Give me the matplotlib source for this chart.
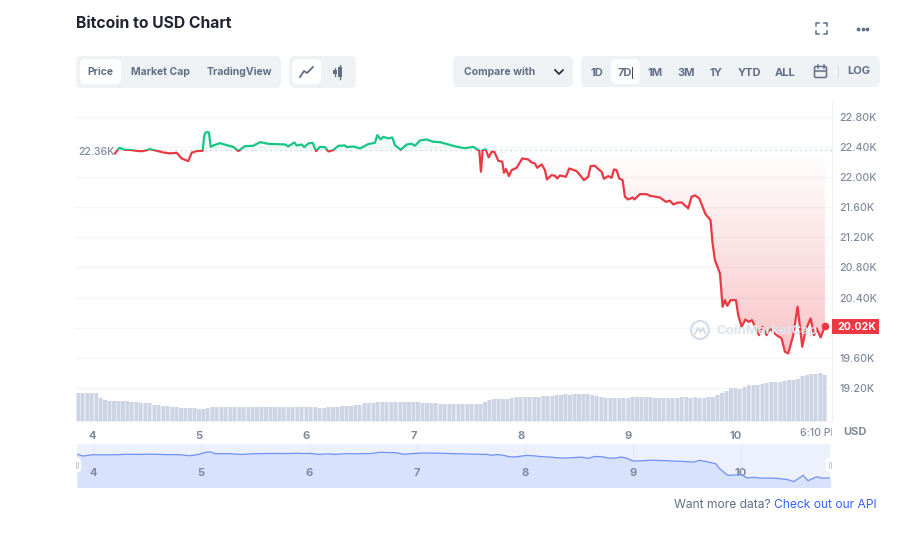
import numpy as np
import matplotlib
matplotlib.use("Agg")
import matplotlib.pyplot as plt
from matplotlib.patches import FancyBboxPatch, Rectangle, Circle
from matplotlib.path import Path

plt.rcParams["font.family"] = ["Inter", "DejaVu Sans"]

# Данные графика
price_days = [4.214, 4.255, 4.308, 4.370, 4.432, 4.478, 4.541, 4.603, 4.665, 4.727, 4.789, 4.836, 4.898, 4.929,
              4.975, 5.031, 5.047, 5.062, 5.090, 5.106, 5.131, 5.193, 5.255, 5.317, 5.364, 5.426, 5.504, 5.566,
              5.643, 5.721, 5.799, 5.830, 5.886, 5.907, 5.954, 5.979, 6.016, 6.057, 6.088, 6.125, 6.172, 6.203,
              6.249, 6.296, 6.358, 6.373, 6.436, 6.498, 6.575, 6.637, 6.659, 6.690, 6.715, 6.762, 6.799, 6.824,
              6.877, 6.933, 6.979, 7.010, 7.057, 7.119, 7.181, 7.243, 7.321, 7.398, 7.476, 7.554, 7.610, 7.625,
              7.641, 7.669, 7.697, 7.725, 7.750, 7.787, 7.824, 7.839, 7.858, 7.886, 7.911, 7.958, 8.010, 8.066,
              8.097, 8.128, 8.150, 8.191, 8.222, 8.240, 8.284, 8.315, 8.336, 8.361, 8.417, 8.448, 8.517, 8.548,
              8.585, 8.625, 8.647, 8.687, 8.719, 8.750, 8.771, 8.812, 8.843, 8.865, 8.889, 8.914, 8.945, 8.967,
              8.998, 9.039, 9.054, 9.107, 9.169, 9.200, 9.293, 9.349, 9.386, 9.418, 9.455, 9.495, 9.557, 9.588,
              9.620, 9.660, 9.697, 9.719, 9.765, 9.784, 9.806, 9.853, 9.877, 9.899, 9.921, 9.952, 10.002, 10.023,
              10.055, 10.089, 10.120, 10.151, 10.188, 10.216, 10.247, 10.288, 10.319, 10.381, 10.427, 10.458,
              10.489, 10.536, 10.576, 10.598, 10.620, 10.651, 10.698, 10.729, 10.754, 10.791, 10.831]
prices = [22.316, 22.391, 22.364, 22.360, 22.347, 22.347, 22.373, 22.351, 22.329, 22.316, 22.325, 22.249, 22.214, 22.325,
          22.347, 22.351, 22.559, 22.599, 22.595, 22.404, 22.422, 22.453, 22.426, 22.404, 22.347, 22.413, 22.418, 22.466,
          22.444, 22.440, 22.435, 22.409, 22.462, 22.422, 22.435, 22.400, 22.449, 22.457, 22.347, 22.404, 22.400, 22.342,
          22.360, 22.418, 22.422, 22.400, 22.409, 22.382, 22.440, 22.457, 22.559, 22.502, 22.537, 22.515, 22.528, 22.426,
          22.364, 22.435, 22.444, 22.418, 22.488, 22.502, 22.471, 22.466, 22.435, 22.405, 22.385, 22.404, 22.350, 22.072,
          22.360, 22.369, 22.263, 22.338, 22.338, 22.218, 22.205, 22.059, 22.108, 22.015, 22.094, 22.125, 22.249, 22.236,
          22.196, 22.183, 22.125, 22.170, 22.094, 21.970, 22.028, 22.019, 21.983, 22.023, 22.006, 22.116, 22.081, 22.028,
          21.961, 22.006, 22.147, 22.152, 22.108, 22.072, 21.979, 22.015, 21.992, 22.103, 22.094, 21.983, 21.961, 21.740,
          21.704, 21.730, 21.704, 21.775, 21.775, 21.753, 21.730, 21.673, 21.687, 21.638, 21.660, 21.665, 21.585, 21.740,
          21.758, 21.718, 21.585, 21.505, 21.430, 21.120, 20.898, 20.720, 20.278, 20.366, 20.291, 20.366, 20.366, 20.167,
          20.012, 20.109, 20.078, 20.100, 19.990, 19.901, 20.012, 19.901, 19.990, 19.901, 19.857, 19.680,
          19.658, 19.901, 20.278, 20.012, 19.746, 19.968, 20.123, 19.901, 19.990, 19.870, 20.021]
base_price = 22.36

volumes = [27.7, 27.7, 27.7, 27.7, 27.7, 22.7, 21, 20.3, 20, 20, 19.7, 19.7, 19, 18.7, 18, 18, 17.7, 16.5, 15.7, 15,
           14.7, 14.3, 13.8, 13.3, 13, 13, 12.7, 12, 12, 13, 14, 14.3, 14.3, 14.3, 14.3, 14.3, 14.3, 14.3, 14.3, 14.3,
           14.3, 14.3, 14.3, 14.3, 14.3, 14.3, 14.3, 14.3, 14.3, 14.3, 14.3, 14.3, 14.3, 14.3, 13.4, 13.4, 14.3, 14.3,
           14.3, 15, 15, 15.3, 15.7, 16.5, 17.7, 17.7, 17.7, 18.7, 18.7, 18.7, 18.7, 18.7, 18.7, 18.7, 18.7, 18.7, 18.7,
           18.3, 17.7, 17.7, 17.7, 17, 17, 17, 17, 17, 17, 17, 17, 17, 17.5, 19, 21, 22, 22, 22, 22, 22.7, 23.7, 23.7,
           23.7, 24.3, 23.7, 23.7, 24.7, 25.3, 25.3, 26, 26, 26.7, 26, 26.7, 26.7, 26.7, 26.7, 26.3, 25, 23.7, 23, 23,
           23, 23, 22.7, 22.7, 23.7, 23.7, 23.7, 24, 24, 23.5, 22.7, 22.7, 22.7, 22.7, 23.5, 24, 24, 23, 23.7, 23.4,
           22.7, 23.7, 23.7, 26, 28, 30, 32.7, 33, 32, 34, 35.7, 36, 36, 37, 37.7, 39.3, 39.3, 39.3, 39.7, 41, 41.5,
           42.3, 45, 46, 47.3, 47.5, 48, 46]
vol_start = 3.851

# навигатор начинается раньше основной линии
nav_lead_days = [3.852, 3.91, 4.0, 4.1]
nav_lead_prices = [22.36, 22.19, 22.32, 22.30]

y_ticks = [19.2, 19.6, 20.0, 20.4, 20.8, 21.2, 21.6, 22.0, 22.4, 22.8]
y_labels = ["19.20K", "19.60K", "", "20.40K", "20.80K", "21.20K", "21.60K", "22.00K", "22.40K", "22.80K"]
x_days = [4, 5, 6, 7, 8, 9, 10]
range_labels = ["1D", "7D", "1M", "3M", "1Y", "YTD", "ALL"]

GREEN = "#16c784"
RED = "#ea3943"
GRAY = "#808a9d"
TEXT = "#616e85"
PANEL = "#eff2f5"

W, H = 900, 545
fig = plt.figure(figsize=(W / 100, H / 100), dpi=100, facecolor="white")


def px_axes(x0, y0, x1, y1, **kw):
    return fig.add_axes([x0 / W, 1 - y1 / H, (x1 - x0) / W, (y1 - y0) / H], **kw)


# -----------------------------
# Основной график
# -----------------------------
ax = px_axes(76, 100, 832, 421)
xlim = (3.851, 10.897)
ylim = (18.76, 23.026)

days = np.array(price_days)
vals = np.array(prices)

# заливка с градиентом
red_fill = ax.fill_between(days, vals, base_price, where=vals <= base_price, interpolate=True, color="none")
grad = np.zeros((256, 2, 4))
grad[..., :3] = matplotlib.colors.to_rgb(RED)
grad[..., 3] = np.linspace(0, 0.3, 256)[:, None]
img = ax.imshow(grad, extent=[days[0], days[-1], 19.6, base_price], aspect="auto", origin="upper", zorder=1.5)
img.set_clip_path(Path.make_compound_path(*red_fill.get_paths()), transform=ax.transData)

ax.fill_between(days, vals, base_price, where=vals >= base_price, interpolate=True, color=GREEN, alpha=0.05, lw=0)

# объёмы
vol_ax = ax.twinx()
vol_ax.set_ylim(0, 321)
vol_ax.axis("off")
vol_x = vol_start + (np.arange(len(volumes)) + 0.5) / 24
vol_ax.bar(vol_x, volumes, width=1 / 24, color="#e2e6ee", lw=0)
vol_ax.bar(vol_x, volumes, width=0.72 / 24, color="#cdd4e3", lw=0)

# оси основного графика (после twinx)
for s in ax.spines.values():
    s.set_visible(False)
ax.spines["right"].set_visible(True)
ax.spines["right"].set_color("#eff2f5")
ax.spines["bottom"].set_visible(True)
ax.spines["bottom"].set_color("#eff2f5")
ax.yaxis.tick_right()
ax.set_yticks(y_ticks)
ax.set_yticklabels(y_labels, fontsize=7.6, color=GRAY, fontweight="medium")
ax.tick_params(axis="y", length=0, pad=5.5, left=False, labelleft=False, right=False, labelright=True)
ax.grid(True, axis="y", color="#f4f5f8", lw=1)
ax.set_axisbelow(True)
ax.set_xticks(x_days)
ax.set_xticklabels([str(d) for d in x_days], fontsize=8, color=GRAY, fontweight="bold")
ax.tick_params(axis="x", length=0, pad=7)

# базовая линия и цена
y_to_vol = lambda p: (np.asarray(p) - ylim[0]) / (ylim[1] - ylim[0]) * 321
line_y = y_to_vol(vals)
base_y = float(y_to_vol(base_price))
vol_ax.axhline(base_y, xmin=(days[0] - xlim[0]) / (xlim[1] - xlim[0]), color="#bfc5d0", lw=0.9, ls=(0, (1, 3)))
g_line, = vol_ax.plot(days, line_y, color=GREEN, lw=1.6, solid_joinstyle="round")
r_line, = vol_ax.plot(days, line_y, color=RED, lw=1.6, solid_joinstyle="round")
g_line.set_clip_path(Rectangle((xlim[0], base_y), 10, 321, transform=vol_ax.transData))
r_line.set_clip_path(Rectangle((xlim[0], 0), 10, base_y, transform=vol_ax.transData))
vol_ax.plot(days[-1], line_y[-1], "o", color=RED, ms=4.5, zorder=5)
vol_ax.set_xlim(*xlim)

ax.set_xlim(*xlim)
ax.set_ylim(*ylim)

# -----------------------------
# Навигатор
# -----------------------------
nav = px_axes(77, 444, 830, 487)
nav.set_facecolor("#edf1fe")
for s in nav.spines.values():
    s.set_visible(False)
nav_x = np.concatenate([nav_lead_days, days[::2], days[-1:]])
nav_y = np.concatenate([nav_lead_prices, vals[::2], vals[-1:]])
nav.fill_between(nav_x, nav_y, 19.0, color="#d8e2fc", lw=0)
nav.plot(nav_x, nav_y, color="#6f90f5", lw=0.9)
for d in x_days:
    nav.axvline(d, color="#e3e8f8", lw=0.8, zorder=0.5)
nav.set_xlim(3.852, 10.824)
nav.set_ylim(19.12, 23.38)
nav.set_yticks([])
nav.set_xticks(x_days)
nav.set_xticklabels([str(d) for d in x_days], fontsize=8, color=GRAY, fontweight="bold")
nav.tick_params(axis="x", length=0, direction="in", pad=-14)

# -----------------------------
# Элементы интерфейса (в пикселях)
# -----------------------------
ui = fig.add_axes([0, 0, 1, 1], facecolor="none")
ui.set_xlim(0, W)
ui.set_ylim(H, 0)
ui.axis("off")


def box(x0, y0, x1, y1, color, r=6):
    ui.add_patch(FancyBboxPatch((x0 + r, y0 + r), x1 - x0 - 2 * r, y1 - y0 - 2 * r,
                                boxstyle=f"round,pad={r},rounding_size={r}", fc=color, ec="none"))


def label(x, y, s, size=7.5, color=TEXT, weight="bold", ha="center", **kw):
    return ui.text(x, y, s, fontsize=size, color=color, fontweight=weight, ha=ha, va="center", **kw)


label(76, 23, "Bitcoin to USD Chart", size=11.3, color="#222531", ha="left")

box(76, 56, 281, 88, PANEL)
box(80, 59, 121, 84, "white")
label(100, 72, "Price")
label(160, 72, "Market Cap")
label(239, 72, "TradingView")

box(289, 56, 356, 88, PANEL)
box(292, 59, 321, 84, "white")
ui.plot([300, 304, 307, 313], [77, 71, 73, 67], color=TEXT, lw=1.3)
for cx, top, bot in [(334.5, 68, 76), (340, 65, 79)]:
    ui.plot([cx, cx], [top, bot], color=TEXT, lw=0.9)
    ui.add_patch(Rectangle((cx - 2, top + 2), 4, bot - top - 4, fc=TEXT, ec="none"))

box(453, 56, 573, 87, PANEL)
label(500, 72, "Compare with")
ui.plot([555, 559, 563], [70, 74, 70], color="#222531", lw=1.2)

box(581, 56, 880, 87, PANEL)
box(611, 59, 640, 84, "white")
for x, s in zip([597, 625, 655, 686, 716, 749, 785], range_labels):
    label(x, 72.5, s, size=8)
ui.plot([631.5, 631.5], [67, 78], color="#222531", lw=0.6)
ui.add_patch(FancyBboxPatch((815, 67), 11, 10, boxstyle="round,pad=0.5,rounding_size=1.5", fc="none", ec=TEXT, lw=1.1))
ui.plot([815, 826], [70.5, 70.5], color=TEXT, lw=1.1)
ui.plot([817.5, 817.5], [65, 68], color=TEXT, lw=1.1)
ui.plot([823.5, 823.5], [65, 68], color=TEXT, lw=1.1)
ui.plot([838, 838], [66, 77], color="#d9dee6", lw=0.8)
label(859, 71.5, "LOG", size=8)

# значок полного экрана и меню
for sx, sy in [(816, 23), (827, 23), (816, 34), (827, 34)]:
    dx = 3 if sx == 816 else -3
    dy = 3 if sy == 23 else -3
    ui.plot([sx + dx, sx, sx], [sy, sy, sy + dy], color=TEXT, lw=1.1)
ui.plot([858, 862.5, 867], [28.5, 28.5, 28.5], "o", color=TEXT, ms=1.7)

# подпись базовой цены
label(96, 152, "22.36K", size=7.5, color=GRAY, weight="medium")

# ярлык текущей цены
ui.add_patch(Rectangle((832, 319), 47, 15, fc=RED, ec="none"))
label(857, 326.5, "20.02K", size=7.6, color="white")
label(855, 432, "USD", size=8, color=GRAY)

# подпись времени у правого края
t = ui.text(800, 433, "6:10 PM", fontsize=7.5, color=GRAY, fontweight="medium", ha="left", va="center", clip_on=True)
t.set_clip_path(Rectangle((790, 425), 42, 16, transform=ui.transData))

# водяной знак
ui.add_patch(Circle((700, 330), 9, fc="none", ec="#d5dcea", lw=1.6))
ui.plot([695, 698, 700.5, 703, 705], [334, 328, 332, 328, 333], color="#d5dcea", lw=1.4)
label(716, 330.5, "CoinMarketCap", size=9.5, color="#dfe4ee", ha="left")

# ручки навигатора
for x in [77, 830]:
    box(x - 4, 458, x + 4, 472, "white", r=3)
    ui.plot([x - 1, x - 1], [462, 468], color="#c4cad6", lw=0.7)
    ui.plot([x + 1, x + 1], [462, 468], color="#c4cad6", lw=0.7)

label(674, 505, "Want more data?", size=8.7, color=TEXT, weight="normal", ha="left")
label(774, 505, "Check out our API", size=8.7, color="#3861fb", weight="normal", ha="left")

fig.savefig("out.png", dpi=100)
plt.close(fig)
